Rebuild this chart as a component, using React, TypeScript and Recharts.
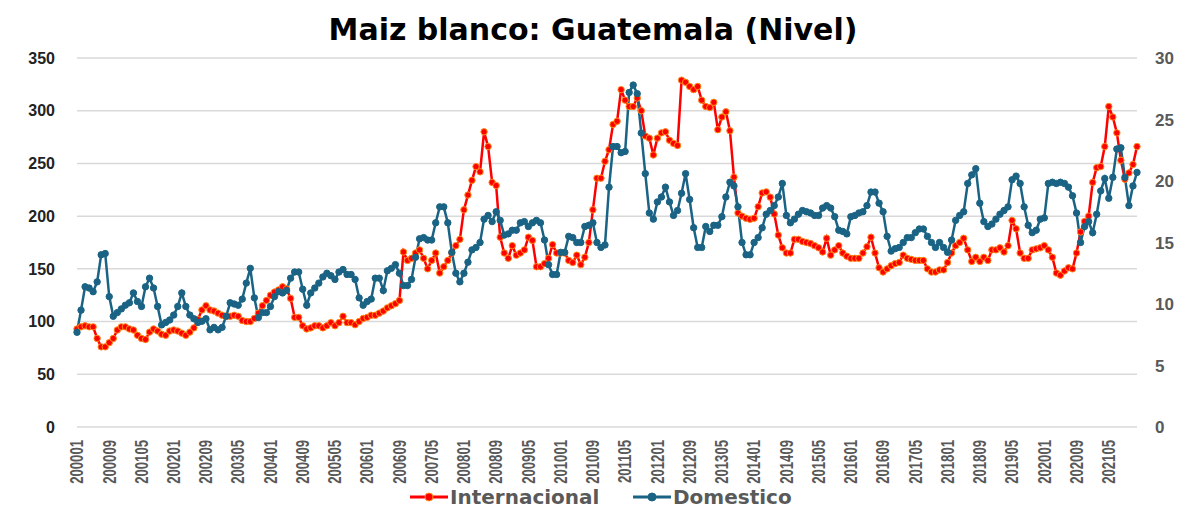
import { LineChart, Line, XAxis, YAxis, CartesianGrid } from 'recharts';

// monthly series, 2000-01 .. 2021-12
const years = Array.from({ length: 22 }, (_, i) => 2000 + i);
const months = ['01', '02', '03', '04', '05', '06', '07', '08', '09', '10', '11', '12'];
const periods = years.flatMap((y) => months.map((m) => `${y}${m}`));

// Internacional, left axis
const internacional = [
  93, 95, 96, 95, 95, 84, 76, 76, 80, 84, 92, 95,
  95, 93, 92, 87, 84, 83, 90, 93, 91, 88, 87, 91,
  92, 91, 89, 87, 90, 94, 102, 111, 115, 111, 110, 108,
  106, 105, 105, 106, 105, 101, 100, 100, 103, 108, 115, 120,
  125, 128, 130, 133, 131, 122, 104, 104, 96, 93, 94, 96,
  96, 94, 96, 99, 96, 99, 105, 99, 99, 97, 100, 103,
  104, 106, 106, 108, 110, 113, 115, 117, 120, 166, 158, 160,
  165, 168, 160, 150, 158, 165, 146, 152, 158, 165, 172, 178,
  206, 220, 234, 247, 242, 280, 266, 232, 229, 180, 165, 160,
  172, 163, 165, 168, 180, 177, 152, 152, 155, 160, 173, 165,
  165, 165, 158, 156, 163, 154, 161, 175, 206, 236, 236, 252,
  263, 287, 290, 320, 310, 304, 304, 312, 300, 276, 274, 258,
  274, 279, 280, 272, 269, 267, 329, 327, 323, 320, 323, 310,
  304, 303, 308, 282, 294, 299, 281, 237, 203, 200, 198, 197,
  198, 209, 222, 223, 218, 202, 182, 170, 165, 165, 178, 178,
  176, 175, 174, 172, 170, 166, 179, 163, 168, 172, 165, 162,
  160, 160, 160, 165, 171, 180, 165, 151, 147, 150, 153, 155,
  156, 163, 160, 159, 158, 158, 158, 150, 147, 147, 149, 149,
  156, 165, 172, 175, 179, 168, 157, 161, 157, 161, 158, 168,
  168, 170, 166, 172, 196, 188, 165, 160, 160, 168, 169, 170,
  172, 168, 161, 146, 144, 148, 151, 150, 165, 185, 195, 200,
  232, 246, 247, 266, 304, 294, 279, 253, 235, 241, 249, 266,
];

// Domestico, right axis
const domestico = [
  7.7, 9.5, 11.4, 11.3, 11.0, 11.8, 14.0, 14.1, 10.6, 9.0, 9.3, 9.6,
  9.9, 10.1, 10.9, 10.2, 9.8, 11.4, 12.1, 11.3, 9.8, 8.3, 8.5, 8.7,
  9.1, 9.8, 10.9, 9.8, 9.1, 8.8, 8.5, 8.6, 8.8, 7.9, 8.1, 7.9,
  8.1, 9.0, 10.1, 10.0, 9.9, 10.4, 11.7, 12.9, 10.5, 8.9, 9.3, 9.3,
  9.8, 10.6, 11.0, 10.9, 11.1, 12.1, 12.6, 12.6, 11.2, 9.9, 10.9, 11.3,
  11.7, 12.2, 12.5, 12.3, 12.0, 12.6, 12.8, 12.4, 12.4, 12.0, 10.5, 9.9,
  10.2, 10.4, 12.1, 12.1, 11.1, 12.7, 12.9, 13.2, 12.5, 11.5, 11.5, 12.0,
  13.8, 15.3, 15.4, 15.2, 15.2, 16.6, 17.9, 17.9, 16.6, 14.2, 12.5, 11.8,
  12.5, 13.4, 14.4, 14.6, 15.0, 16.9, 17.2, 16.7, 17.5, 16.8, 15.6, 15.7,
  16.0, 16.0, 16.6, 16.7, 16.3, 16.6, 16.8, 16.6, 15.2, 13.2, 12.4, 12.4,
  14.2, 14.2, 15.5, 15.4, 15.0, 15.0, 16.3, 16.4, 16.6, 15.0, 14.6, 14.8,
  19.5, 22.8, 22.8, 22.3, 22.4, 27.2, 27.8, 27.1, 23.9, 20.6, 17.4, 16.9,
  18.3, 18.7, 19.5, 18.3, 17.2, 17.6, 19.0, 20.6, 18.5, 16.2, 14.6, 14.6,
  16.3, 15.9, 16.4, 16.4, 17.1, 18.7, 19.9, 19.6, 17.9, 15.0, 14.0, 14.0,
  15.0, 15.4, 16.2, 17.3, 17.6, 18.0, 18.7, 19.8, 17.2, 16.6, 16.9, 17.3,
  17.6, 17.5, 17.4, 17.2, 17.2, 17.8, 18.0, 17.8, 17.1, 16.0, 15.9, 15.7,
  17.1, 17.2, 17.4, 17.5, 18.0, 19.1, 19.1, 18.2, 17.5, 15.5, 14.3, 14.5,
  14.6, 15.0, 15.4, 15.4, 15.8, 16.1, 16.1, 15.5, 15.0, 14.6, 15.0, 14.6,
  14.2, 15.2, 16.8, 17.2, 17.5, 19.8, 20.5, 21.0, 18.2, 16.7, 16.3, 16.5,
  16.9, 17.3, 17.6, 17.9, 20.1, 20.4, 19.8, 17.9, 16.4, 15.8, 16.0, 16.9,
  17.0, 19.8, 19.9, 19.8, 19.9, 19.8, 19.5, 18.8, 17.4, 15.0, 16.3, 16.7,
  15.8, 17.3, 19.2, 20.2, 18.6, 20.3, 22.6, 22.7, 20.3, 18.0, 19.6, 20.7,
];

const leftTicks = [0, 50, 100, 150, 200, 250, 300, 350];
const rightTicks = [0, 5, 10, 15, 20, 25, 30];

const data = periods.map((p, i) => ({
  periodo: p,
  internacional: internacional[i],
  domestico: domestico[i],
}));

const RED = '#ff0000';
const BLUE = '#1a6384';
const GREY = '#595959';

const PeriodTick = (props: any) => {
  const { x, y, payload } = props;
  return (
    <g transform={`translate(${x},${y + 5})`}>
      <text
        transform="rotate(-90) scale(0.73,1)"
        textAnchor="end"
        dominantBaseline="central"
        fill={GREY}
        fontSize={18}
        fontWeight="bold"
        fontFamily="'Liberation Sans', sans-serif"
      >
        {payload.value}
      </text>
    </g>
  );
};

const LegendItem = ({ left, color, label, dotStroke }: { left: number; color: string; label: string; dotStroke: string }) => (
  <div style={{ position: 'absolute', left, top: 0, display: 'flex', alignItems: 'center' }}>
    <svg width={38} height={12}>
      <line x1={0} y1={6} x2={38} y2={6} stroke={color} strokeWidth={3} />
      <circle cx={19} cy={6} r={4} fill={color} stroke={dotStroke} strokeWidth={1} />
    </svg>
    <span style={{ marginLeft: 2 }}>{label}</span>
  </div>
);

export default function App() {
  return (
    <div style={{ position: 'relative', width: 1170, height: 501, fontFamily: "'DejaVu Sans', sans-serif" }}>
      <div
        style={{
          position: 'absolute',
          top: 5,
          left: 0,
          width: 1170,
          textAlign: 'center',
          fontSize: 30,
          lineHeight: '34px',
          fontWeight: 'bold',
          color: '#000',
        }}
      >
        Maiz blanco: Guatemala (Nivel)
      </div>
      <LineChart width={1170} height={501} data={data} margin={{ top: 50, right: 0, left: 0, bottom: 24 }}>
        <CartesianGrid vertical={false} stroke="#d9d9d9" strokeWidth={1.5} yAxisId="left" />
        <XAxis
          dataKey="periodo"
          interval={7}
          tickLine={false}
          axisLine={false}
          height={58}
          tick={<PeriodTick />}
        />
        <YAxis
          yAxisId="left"
          domain={[0, 350]}
          ticks={leftTicks}
          width={69}
          tickLine={false}
          axisLine={false}
          tickMargin={16}
          tick={{ fill: '#222', fontSize: 16, fontWeight: 'bold', fontFamily: "'Liberation Sans', sans-serif" }}
        />
        <YAxis
          yAxisId="right"
          orientation="right"
          domain={[0, 30]}
          ticks={rightTicks}
          width={41}
          tickLine={false}
          axisLine={false}
          tickMargin={12}
          tick={{ fill: GREY, fontSize: 17, fontWeight: 'bold', fontFamily: "'Liberation Sans', sans-serif" }}
        />
        <Line
          yAxisId="left"
          type="linear"
          dataKey="internacional"
          stroke={RED}
          strokeWidth={2.5}
          dot={{ r: 3.2, fill: RED, stroke: '#ff8c1a', strokeWidth: 1 }}
          isAnimationActive={false}
        />
        <Line
          yAxisId="right"
          type="linear"
          dataKey="domestico"
          stroke={BLUE}
          strokeWidth={2.5}
          dot={{ r: 3.2, fill: BLUE, stroke: BLUE, strokeWidth: 1 }}
          isAnimationActive={false}
        />
      </LineChart>
      <div
        style={{
          position: 'absolute',
          top: 477,
          left: 0,
          width: 1170,
          height: 24,
          fontSize: 20,
          fontWeight: 'bold',
          color: GREY,
          lineHeight: '24px',
        }}
      >
        <LegendItem left={402} color={RED} label="Internacional" dotStroke="#ff8c1a" />
        <LegendItem left={625} color={BLUE} label="Domestico" dotStroke={BLUE} />
      </div>
    </div>
  );
}
